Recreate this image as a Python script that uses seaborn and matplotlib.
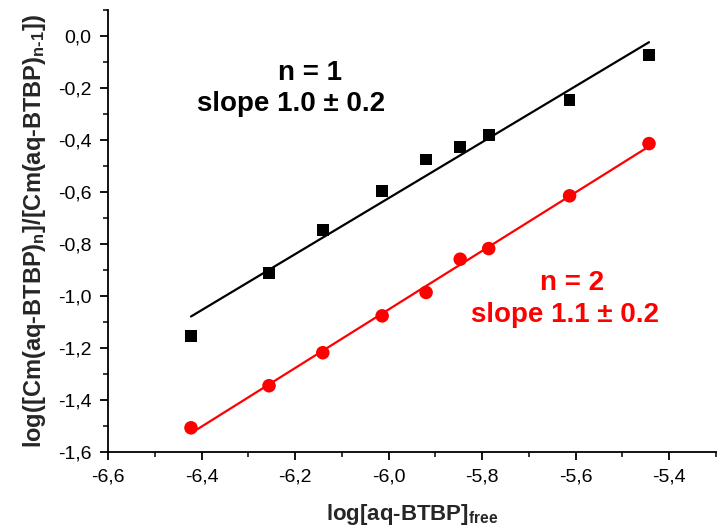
import numpy as np
import pandas as pd
import seaborn as sns
import matplotlib
matplotlib.use("Agg")
import matplotlib.pyplot as plt
from matplotlib.ticker import FuncFormatter, MultipleLocator

# log of free ligand concentration (shared by both stepwise complexation steps)
log_free = [-6.423, -6.256, -6.141, -6.014, -5.920, -5.847, -5.786, -5.613, -5.443]
# log ratio for n = 1 and n = 2
ratio_n1 = [-1.155, -0.912, -0.747, -0.597, -0.475, -0.427, -0.381, -0.247, -0.073]
ratio_n2 = [-1.508, -1.346, -1.219, -1.077, -0.987, -0.859, -0.818, -0.615, -0.414]

x_ticks = [-6.6, -6.4, -6.2, -6.0, -5.8, -5.6, -5.4]
y_ticks = [-1.6, -1.4, -1.2, -1.0, -0.8, -0.6, -0.4, -0.2, 0.0]

df = pd.DataFrame({"x": log_free, "n1": ratio_n1, "n2": ratio_n2})

sns.set_style("ticks")
plt.rcParams["font.family"] = ["Liberation Sans", "DejaVu Sans"]
plt.rcParams["axes.unicode_minus"] = False
plt.rcParams["mathtext.fontset"] = "custom"
plt.rcParams["mathtext.rm"] = "Liberation Sans:bold"
plt.rcParams["mathtext.it"] = "Liberation Sans:bold"
plt.rcParams["mathtext.bf"] = "Liberation Sans:bold"

fig = plt.figure(figsize=(7.18, 5.30), dpi=100)
ax = fig.add_axes([0.1508, 0.1477, 0.8462, 0.8333])

sns.regplot(data=df, x="x", y="n1", ax=ax, ci=None, marker="s",
            color="black",
            scatter_kws=dict(s=70, edgecolors="none", alpha=1, zorder=3),
            line_kws=dict(lw=1.6, zorder=2))
sns.regplot(data=df, x="x", y="n2", ax=ax, ci=None, marker="o",
            color="#ff0000",
            scatter_kws=dict(s=95, edgecolors="none", alpha=1, zorder=3),
            line_kws=dict(lw=1.6, zorder=2))

ax.set_xlim(-6.6, -5.3)
ax.set_ylim(-1.6, 0.1)
ax.set_xticks(x_ticks)
ax.set_yticks(y_ticks)
ax.xaxis.set_minor_locator(MultipleLocator(0.1))
ax.yaxis.set_minor_locator(MultipleLocator(0.1))
fmt = FuncFormatter(lambda v, p: f"{v:.1f}".replace(".", ",").replace("-0,0", "0,0"))
ax.xaxis.set_major_formatter(fmt)
ax.yaxis.set_major_formatter(fmt)

for side in ("top", "right"):
    ax.spines[side].set_visible(False)
for side in ("left", "bottom"):
    ax.spines[side].set_linewidth(1.3)
    ax.spines[side].set_color("black")

ax.tick_params(which="major", direction="out", length=6, width=1.3,
               labelsize=14, colors="black", pad=6)
ax.tick_params(which="minor", direction="out", length=3.5, width=1.3)

ax.set_xlabel("log[aq-BTBP]$_{free}$", fontsize=16, fontweight="bold", labelpad=12)
ax.set_ylabel("log([Cm(aq-BTBP)$_{n}$]/[Cm(aq-BTBP)$_{n\\text{-}1}$])",
              fontsize=17, fontweight="bold", labelpad=7)

ax.text(-6.168, -0.143, "n = 1", fontsize=20, fontweight="bold",
        color="black", ha="center", va="center")
ax.text(-6.209, -0.263, "slope 1.0 \u00b1 0.2", fontsize=20, fontweight="bold",
        color="black", ha="center", va="center")
ax.text(-5.608, -0.951, "n = 2", fontsize=20, fontweight="bold",
        color="#ff0000", ha="center", va="center")
ax.text(-5.623, -1.074, "slope 1.1 \u00b1 0.2", fontsize=20, fontweight="bold",
        color="#ff0000", ha="center", va="center")

fig.savefig("out.png", dpi=100)
